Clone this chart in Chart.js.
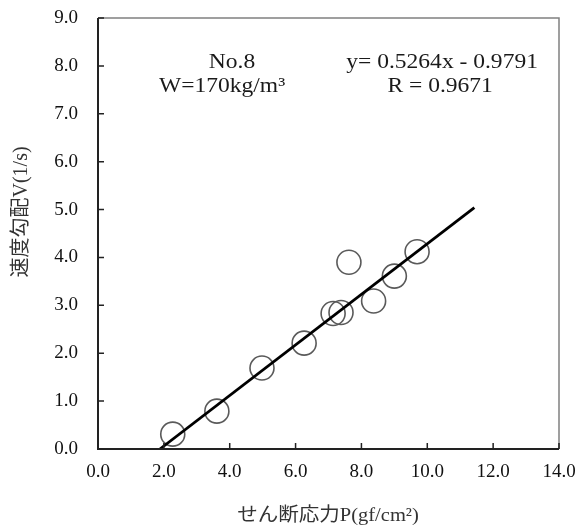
<!DOCTYPE html>
<html>
<head>
<meta charset="utf-8">
<script src="https://cdn.jsdelivr.net/npm/chart.js@4/dist/chart.umd.min.js"></script>
<style>
  html, body { margin: 0; padding: 0; background: #fff; }
  #wrap { width: 578px; height: 531px; }
</style>
</head>
<body>
<div id="wrap"><canvas id="c" width="578" height="531"></canvas></div>
<script>
// Measured data (shear stress P vs velocity gradient V)
const shearStress = [2.27, 3.61, 4.98, 6.26, 7.14, 7.38, 7.62, 8.37, 9.0, 9.69];
const velocityGrad = [0.31, 0.79, 1.69, 2.21, 2.83, 2.85, 3.90, 3.09, 3.61, 4.12];
// Fitted line endpoints as drawn
const fitX = [1.88, 11.43];
const fitY = [0.0, 5.04];
// Axis ticks
const xTicks = [0, 2, 4, 6, 8, 10, 12, 14];
const yTicks = [0, 1, 2, 3, 4, 5, 6, 7, 8, 9];
// Texts
const labelLeft = ['No.8', 'W=170kg/m³'];
const labelRight = ['y= 0.5264x - 0.9791', 'R = 0.9671'];
const xTitle = 'せん断応力P(gf/cm²)';
const yTitle = '速度勾配V(1/s)';

const serif = '"Liberation Serif", "Times New Roman", serif';
const jpFont = '"Liberation Serif", "Noto Sans CJK JP", serif';

function stretchText(ctx, text, x, y, sx) {
  ctx.save();
  ctx.translate(x, y);
  ctx.scale(sx, 1);
  ctx.fillText(text, 0, 0);
  ctx.restore();
}

const frame = {
  id: 'frame',
  afterDatasetsDraw(chart) {
    const {ctx, chartArea: a, scales} = chart;
    ctx.save();
    // gray outer box
    ctx.strokeStyle = '#808080';
    ctx.lineWidth = 1.5;
    ctx.beginPath();
    ctx.moveTo(a.left, a.top); ctx.lineTo(a.right, a.top); ctx.lineTo(a.right, a.bottom);
    ctx.stroke();
    // black axes
    ctx.strokeStyle = '#222';
    ctx.lineWidth = 2;
    ctx.beginPath();
    ctx.moveTo(a.left, a.top); ctx.lineTo(a.left, a.bottom); ctx.lineTo(a.right, a.bottom);
    ctx.stroke();
    // inward ticks
    ctx.lineWidth = 1.5;
    ctx.beginPath();
    xTicks.forEach(v => {
      const px = scales.x.getPixelForValue(v);
      ctx.moveTo(px, a.bottom); ctx.lineTo(px, a.bottom - 6);
    });
    yTicks.forEach(v => {
      const py = scales.y.getPixelForValue(v);
      ctx.moveTo(a.left, py); ctx.lineTo(a.left + 6, py);
    });
    ctx.stroke();
    // annotations
    ctx.fillStyle = '#1a1a1a';
    ctx.font = '21px ' + serif;
    ctx.textAlign = 'center';
    ctx.textBaseline = 'middle';
    const X = v => scales.x.getPixelForValue(v);
    const Y = v => scales.y.getPixelForValue(v);
    stretchText(ctx, labelLeft[0], X(4.07), Y(8.08), 1.12);
    stretchText(ctx, labelLeft[1], X(3.77), Y(7.56), 1.12);
    stretchText(ctx, labelRight[0], X(10.45), Y(8.08), 1.12);
    stretchText(ctx, labelRight[1], X(10.39), Y(7.56), 1.12);
    // axis titles
    ctx.fillStyle = '#333';
    ctx.font = '19px ' + jpFont;
    stretchText(ctx, xTitle, (a.left + a.right) / 2 - 0.5, 516, 1.08);
    ctx.save();
    ctx.translate(22, Y(4.95));
    ctx.rotate(-Math.PI / 2);
    ctx.font = '20px ' + jpFont;
    ctx.fillText(yTitle, 0, 0);
    ctx.restore();
    ctx.restore();
  }
};

new Chart(document.getElementById('c'), {
  type: 'scatter',
  data: {
    datasets: [
      {
        label: 'data',
        data: shearStress.map((x, i) => ({x, y: velocityGrad[i]})),
        pointRadius: 12,
        pointHoverRadius: 12,
        pointStyle: 'circle',
        borderColor: '#5a5a5a',
        backgroundColor: 'rgba(0,0,0,0)',
        borderWidth: 1.6,
        order: 2
      },
      {
        label: 'fit',
        type: 'line',
        data: fitX.map((x, i) => ({x, y: fitY[i]})),
        showLine: true,
        pointRadius: 0,
        borderColor: '#000',
        borderWidth: 2.8,
        fill: false,
        order: 1
      }
    ]
  },
  options: {
    responsive: false,
    animation: false,
    devicePixelRatio: 1,
    layout: { padding: { top: 18, right: 19, left: 0, bottom: 0 } },
    plugins: { legend: { display: false }, tooltip: { enabled: false } },
    scales: {
      x: {
        type: 'linear', min: 0, max: 14,
        afterBuildTicks(s) { s.ticks = xTicks.map(v => ({value: v})); },
        afterFit(s) { s.height = 82; s.paddingLeft = 0; s.paddingRight = 0; },
        grid: { display: false },
        border: { display: false },
        ticks: {
          padding: 4,
          color: '#111',
          font: { family: serif, size: 19 },
          callback: v => v.toFixed(1)
        },
        title: { display: false }
      },
      y: {
        type: 'linear', min: 0, max: 9,
        afterBuildTicks(s) { s.ticks = yTicks.map(v => ({value: v})); },
        afterFit(s) { s.width = 98; s.paddingTop = 0; s.paddingBottom = 0; },
        grid: { display: false },
        border: { display: false },
        ticks: {
          padding: 12,
          color: '#111',
          font: { family: serif, size: 19 },
          callback: v => v.toFixed(1)
        },
        title: { display: false }
      }
    }
  },
  plugins: [frame]
});
</script>
</body>
</html>
